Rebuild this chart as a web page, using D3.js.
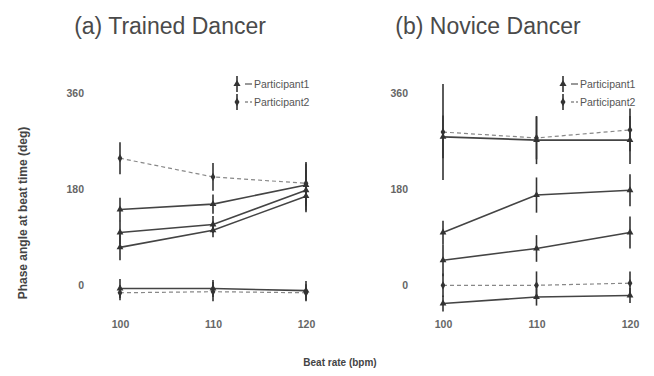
<!DOCTYPE html>
<html>
<head>
<meta charset="utf-8">
<script src="https://cdn.jsdelivr.net/npm/d3@7"></script>
<style>
  body { margin: 0; background: #fff; }
  svg { display: block; font-family: "Liberation Sans", Arial, sans-serif; }
</style>
</head>
<body>
<svg id="chart" width="654" height="376"></svg>
<script>
// Beat rates (bpm) on the x axis
const beatRates = ["100", "110", "120"];
const yTicks = [0, 180, 360];
const legendLabels = ["Participant1", "Participant2"];
const panelTitles = ["(a) Trained Dancer", "(b) Novice Dancer"];

// Mean phase angle (deg) per beat rate, and the error (deg) at each point
// Trained dancer
const trainedP1 = [[142, 152, 188], [99, 114, 178], [71, 103, 167], [-6, -6, -10]];
const trainedP1Err = [[22, 18, 40], [22, 16, 38], [24, 13, 30], [18, 16, 18]];
const trainedP2 = [[238, 203, 191], [-14, -12, -14]];
const trainedP2Err = [[30, 26, 40], [14, 18, 16]];
// Novice dancer
const noviceP1 = [[278, 272, 272], [99, 169, 178], [47, 69, 99], [-34, -22, -19]];
const noviceP1Err = [[40, 45, 45], [22, 33, 30], [30, 25, 30], [15, 16, 14]];
const noviceP2 = [[287, 276, 291], [0, 0, 4]];
const noviceP2Err = [[90, 40, 40], [22, 26, 22]];

const svg = d3.select("#chart");

const y = d3.scaleLinear().domain([-65, 422]).range([320, 60]);

const panels = [
  { title: panelTitles[0], x0: 120, x1: 306, tickRight: 84, p1: trainedP1, p1e: trainedP1Err, p2: trainedP2, p2e: trainedP2Err, titleX: 170, legendX: 233 },
  { title: panelTitles[1], x0: 443, x1: 630, tickRight: 408, p1: noviceP1, p1e: noviceP1Err, p2: noviceP2, p2e: noviceP2Err, titleX: 488, legendX: 559 }
];

panels.forEach(p => {
  const x = d3.scalePoint().domain(beatRates).range([p.x0, p.x1]);
  const g = svg.append("g");

  // panel title
  g.append("text")
    .attr("x", p.titleX).attr("y", 34)
    .attr("text-anchor", "middle")
    .attr("font-size", 23)
    .attr("fill", "#4a4a4a")
    .text(p.title);

  // y axis: tick labels only
  const yAxis = d3.axisLeft(y).tickValues(yTicks).tickSize(0).tickPadding(0);
  const ya = g.append("g").attr("transform", `translate(${p.tickRight},0)`).call(yAxis);
  ya.select(".domain").remove();
  ya.selectAll("text").attr("font-size", 10.5).attr("fill", "#666").attr("font-weight", "bold")
    .attr("font-family", "Liberation Sans, Arial, sans-serif");

  // x axis: tick labels only
  const xAxis = d3.axisBottom(x).tickSize(0).tickPadding(0);
  const xa = g.append("g").attr("transform", "translate(0,321)").call(xAxis);
  xa.select(".domain").remove();
  xa.selectAll("text").attr("font-size", 10.5).attr("fill", "#666").attr("font-weight", "bold")
    .attr("font-family", "Liberation Sans, Arial, sans-serif");

  const line = d3.line().x((d, i) => x(beatRates[i])).y(d => y(d));

  function drawSeries(vals, errs, dashed) {
    vals.forEach((s, si) => {
      g.append("path")
        .attr("d", line(s))
        .attr("fill", "none")
        .attr("stroke", dashed ? "#888" : "#444")
        .attr("stroke-width", dashed ? 1.2 : 1.6)
        .attr("stroke-dasharray", dashed ? "4,3" : null);
      s.forEach((v, i) => {
        const cx = x(beatRates[i]);
        const e = errs[si][i];
        g.append("line")
          .attr("x1", cx).attr("x2", cx)
          .attr("y1", y(v + e)).attr("y2", y(v - e))
          .attr("stroke", "#333").attr("stroke-width", 1.6);
        g.append("path")
          .attr("d", d3.symbol().type(dashed ? d3.symbolDiamond : d3.symbolTriangle).size(20)())
          .attr("transform", `translate(${cx},${y(v)})`)
          .attr("fill", "#333");
      });
    });
  }
  drawSeries(p.p1, p.p1e, false);
  drawSeries(p.p2, p.p2e, true);

  // legend
  legendLabels.forEach((lab, i) => {
    const ly = 84 + i * 18;
    const lg = g.append("g").attr("transform", `translate(${p.legendX},${ly})`);
    lg.append("line").attr("x1", 4).attr("x2", 4).attr("y1", -8).attr("y2", 8)
      .attr("stroke", "#333").attr("stroke-width", 1.6);
    lg.append("path")
      .attr("d", d3.symbol().type(i === 0 ? d3.symbolTriangle : d3.symbolDiamond).size(22)())
      .attr("transform", "translate(4,0)").attr("fill", "#333");
    lg.append("line").attr("x1", 12).attr("x2", 19).attr("y1", 0).attr("y2", 0)
      .attr("stroke", "#555").attr("stroke-width", 1.2)
      .attr("stroke-dasharray", i === 0 ? null : "3,2");
    lg.append("text").attr("x", 21).attr("y", 3.5)
      .attr("font-size", 10.5).attr("fill", "#555").text(lab);
  });
});

// shared axis titles
svg.append("text")
  .attr("transform", "translate(27,213) rotate(-90)")
  .attr("text-anchor", "middle")
  .attr("font-size", 12).attr("font-weight", "bold").attr("fill", "#444")
  .text("Phase angle at beat time (deg)");

svg.append("text")
  .attr("x", 340).attr("y", 366)
  .attr("text-anchor", "middle")
  .attr("font-size", 10).attr("font-weight", "bold").attr("fill", "#444")
  .text("Beat rate (bpm)");
</script>
</body>
</html>
